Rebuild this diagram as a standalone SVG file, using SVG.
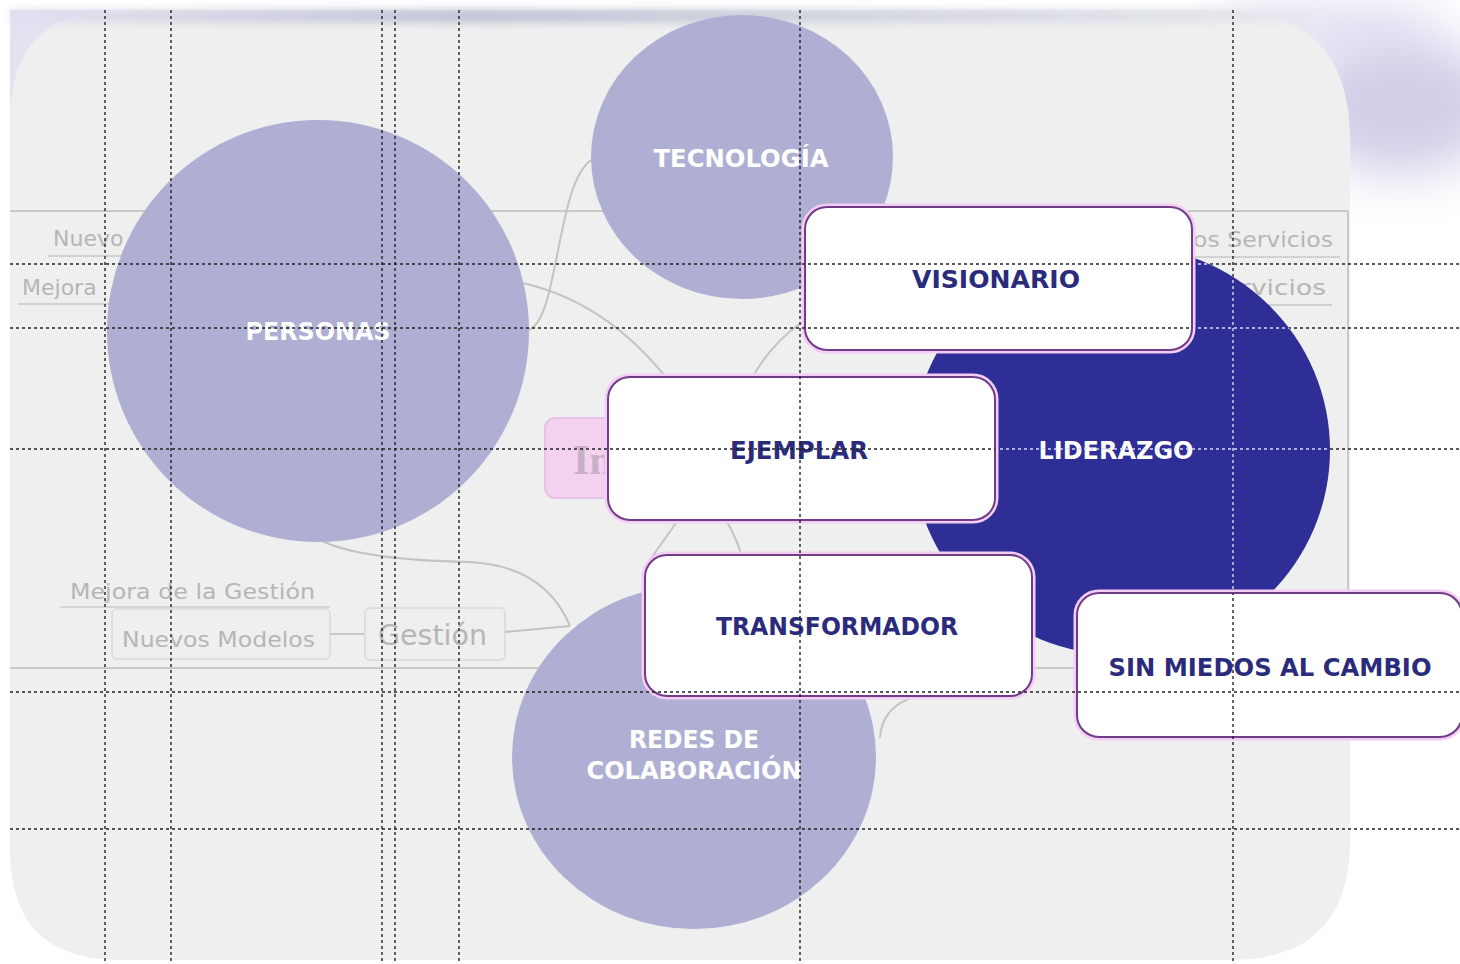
<svg xmlns="http://www.w3.org/2000/svg" width="1460" height="964" viewBox="0 0 1460 964">
<style>
.bgtxt{font-family:"DejaVu Sans","Liberation Sans",sans-serif;fill:#b6b6b6;font-size:22px}
.ctxt{font-family:"DejaVu Sans","Liberation Sans",sans-serif;font-weight:bold;fill:#ffffff;font-size:24px;text-anchor:middle}
.btxt{font-family:"DejaVu Sans","Liberation Sans",sans-serif;font-weight:bold;fill:#2b2b7c;font-size:24px;text-anchor:middle}
.circle{fill:#afafd3}
.box{fill:#ffffff;stroke:#713c87;stroke-width:2}
.glow{fill:none;stroke:#f3cdf3;stroke-width:7}
.conn{fill:none;stroke:#c3c3c3;stroke-width:2}
.guide{fill:none;stroke-width:1.4;stroke-dasharray:3 3}
.frame{fill:none;stroke:#c9c9c9;stroke-width:2}
</style>
<defs>
<filter id="blur" x="-50%" y="-50%" width="200%" height="200%"><feGaussianBlur stdDeviation="25"/></filter>
<filter id="blur2" x="-10%" y="-200%" width="120%" height="500%"><feGaussianBlur stdDeviation="5"/></filter>
<linearGradient id="topg" x1="0" y1="0" x2="1" y2="0">
<stop offset="0" stop-color="#e2def0"/>
<stop offset="0.35" stop-color="#b8bed2"/>
<stop offset="0.55" stop-color="#c4cad9"/>
<stop offset="1" stop-color="#e8e8ef"/>
</linearGradient>
<clipPath id="lidClip"><ellipse cx="1121" cy="450" rx="209" ry="205"/></clipPath>
<mask id="darkMask" maskUnits="userSpaceOnUse" x="0" y="0" width="1460" height="964">
<rect x="0" y="0" width="1460" height="964" fill="#fff"/>
<ellipse cx="1121" cy="450" rx="209" ry="205" fill="#000"/>
<rect x="805" y="207" width="387" height="143" rx="22" fill="#fff"/>
<rect x="608" y="377" width="387" height="143" rx="22" fill="#fff"/>
<rect x="645" y="555" width="387" height="141" rx="22" fill="#fff"/>
<rect x="1077" y="593" width="385" height="144" rx="22" fill="#fff"/>
</mask>
<g id="guidelines">
<line x1="10" y1="264" x2="1460" y2="264"/>
<line x1="10" y1="328" x2="1460" y2="328"/>
<line x1="10" y1="449" x2="1460" y2="449"/>
<line x1="10" y1="692" x2="1460" y2="692"/>
<line x1="10" y1="829" x2="1460" y2="829"/>
<line x1="105" y1="10" x2="105" y2="964"/>
<line x1="171" y1="10" x2="171" y2="964"/>
<line x1="382" y1="10" x2="382" y2="964"/>
<line x1="395" y1="10" x2="395" y2="964"/>
<line x1="459" y1="10" x2="459" y2="964"/>
<line x1="800" y1="10" x2="800" y2="964"/>
<line x1="1233" y1="10" x2="1233" y2="964"/>
</g>
</defs>

<g id="background">
<rect x="0" y="0" width="1460" height="964" fill="#ffffff"/>
<rect x="10" y="10" width="110" height="110" fill="#e4e1f1"/>
<ellipse cx="1400" cy="105" rx="100" ry="70" fill="#c6c2e2" opacity="0.8" filter="url(#blur)"/>
<ellipse cx="1320" cy="30" rx="120" ry="25" fill="#d8d5ec" opacity="0.8" filter="url(#blur)"/>
<path d="M120 10 H1220 Q1350 10 1350 140 V840 Q1350 960 1230 960 H120 Q10 960 10 850 V120 Q10 10 120 10 Z" fill="#efefef"/>
<rect x="10" y="10" width="1300" height="12" fill="url(#topg)" filter="url(#blur2)"/>
<line class="frame" x1="10" y1="211" x2="1348" y2="211"/>
<line class="frame" x1="10" y1="668" x2="1348" y2="668"/>
<line class="frame" x1="1348" y1="211" x2="1348" y2="668"/>
</g>

<g id="background-map">
<text class="bgtxt" x="53" y="246">Nuevo</text>
<line x1="48" y1="256" x2="130" y2="256" stroke="#d2d2d2" stroke-width="2"/>
<text class="bgtxt" x="22" y="295">Mejora</text>
<line x1="18" y1="304" x2="110" y2="304" stroke="#d2d2d2" stroke-width="2"/>
<text class="bgtxt" x="1193" y="247" textLength="140" lengthAdjust="spacingAndGlyphs">os Servicios</text>
<line x1="1190" y1="257" x2="1340" y2="257" stroke="#d2d2d2" stroke-width="2"/>
<text class="bgtxt" x="1240" y="295" textLength="86" lengthAdjust="spacingAndGlyphs">rvicios</text>
<line x1="1235" y1="305" x2="1332" y2="305" stroke="#d2d2d2" stroke-width="2"/>
<text class="bgtxt" x="70" y="599" textLength="245" lengthAdjust="spacingAndGlyphs">Mejora de la Gestión</text>
<line x1="60" y1="607" x2="330" y2="607" stroke="#d6d6d6" stroke-width="2"/>
<rect x="112" y="609" width="218" height="50" rx="5" fill="none" stroke="#dedede" stroke-width="2"/>
<text class="bgtxt" x="122" y="647" textLength="193" lengthAdjust="spacingAndGlyphs">Nuevos Modelos</text>
<line x1="330" y1="634" x2="365" y2="634" stroke="#c8c8c8" stroke-width="2"/>
<rect x="365" y="608" width="140" height="52" rx="5" fill="none" stroke="#dedede" stroke-width="2"/>
<text class="bgtxt" x="378" y="645" textLength="109" lengthAdjust="spacingAndGlyphs" style="font-size:28px">Gestión</text>
<rect x="545" y="418" width="80" height="80" rx="10" fill="#f2d2ee" stroke="#e6c2e4" stroke-width="2"/>
<text x="573" y="474" font-family="Liberation Serif,serif" font-weight="bold" font-size="42" fill="#c8b0c8">In</text>
</g>

<g id="connectors">
<path class="conn" d="M528 330 C560 322 556 170 596 158"/>
<path class="conn" d="M518 282 Q605 300 668 380"/>
<path class="conn" d="M802 322 Q770 345 752 378"/>
<path class="conn" d="M678 520 L650 560"/>
<path class="conn" d="M726 520 Q735 535 742 556"/>
<path class="conn" d="M320 540 Q360 560 470 562 Q545 566 570 626"/>
<path class="conn" d="M505 632 L570 626"/>
<path class="conn" d="M880 738 Q882 705 918 696"/>
</g>

<g id="node-personas">
<circle class="circle" cx="318" cy="331" r="211"/>
<text class="ctxt" x="318" y="340" textLength="145" lengthAdjust="spacingAndGlyphs">PERSONAS</text>
</g>
<g id="node-tecnologia">
<ellipse class="circle" cx="742" cy="157" rx="151" ry="142"/>
<text class="ctxt" x="741" y="167" textLength="175" lengthAdjust="spacingAndGlyphs">TECNOLOGÍA</text>
</g>
<g id="node-redes">
<ellipse class="circle" cx="694" cy="757" rx="182" ry="172"/>
<text class="ctxt" x="694" y="748" textLength="130" lengthAdjust="spacingAndGlyphs">REDES DE</text>
<text class="ctxt" x="694" y="779" textLength="215" lengthAdjust="spacingAndGlyphs">COLABORACIÓN</text>
</g>
<g id="node-liderazgo">
<ellipse cx="1121" cy="450" rx="209" ry="205" fill="#2e2e96"/>
<text class="ctxt" x="1116" y="459" textLength="155" lengthAdjust="spacingAndGlyphs">LIDERAZGO</text>
</g>

<use href="#guidelines" class="guide" stroke="#dcdcf4" clip-path="url(#lidClip)"/>

<g id="node-visionario">
<rect class="glow" x="805" y="207" width="387" height="143" rx="22"/>
<rect class="box" x="805" y="207" width="387" height="143" rx="22"/>
<text class="btxt" x="996" y="288" textLength="168" lengthAdjust="spacingAndGlyphs">VISIONARIO</text>
</g>
<g id="node-ejemplar">
<rect class="glow" x="608" y="377" width="387" height="143" rx="22"/>
<rect class="box" x="608" y="377" width="387" height="143" rx="22"/>
<text class="btxt" x="799" y="459" textLength="138" lengthAdjust="spacingAndGlyphs">EJEMPLAR</text>
</g>
<g id="node-transformador">
<rect class="glow" x="645" y="555" width="387" height="141" rx="22"/>
<rect class="box" x="645" y="555" width="387" height="141" rx="22"/>
<text class="btxt" x="837" y="635" textLength="242" lengthAdjust="spacingAndGlyphs">TRANSFORMADOR</text>
</g>
<g id="node-sinmiedos">
<rect class="glow" x="1077" y="593" width="385" height="144" rx="22"/>
<rect class="box" x="1077" y="593" width="385" height="144" rx="22"/>
<text class="btxt" x="1270" y="676" textLength="323" lengthAdjust="spacingAndGlyphs">SIN MIEDOS AL CAMBIO</text>
</g>

<use href="#guidelines" class="guide" stroke="#222222" mask="url(#darkMask)"/>
</svg>
